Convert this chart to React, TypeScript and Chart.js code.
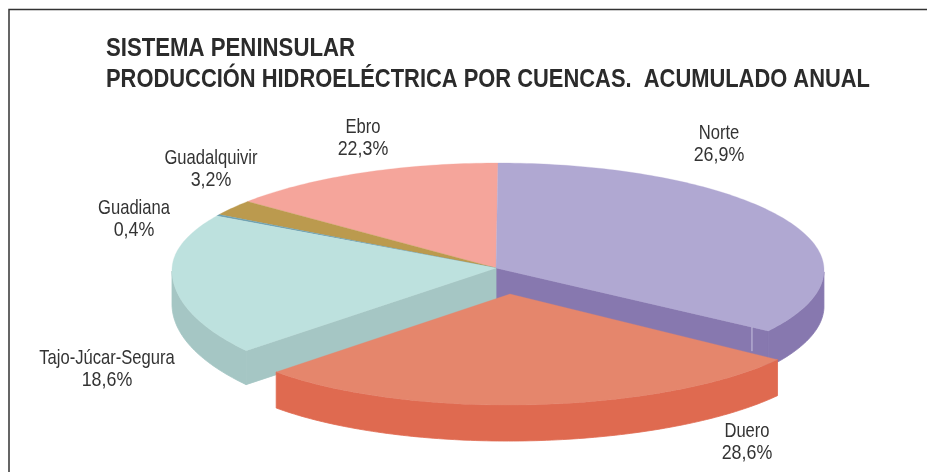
import React, { useEffect, useRef } from "react";
import { Chart, registerables } from "chart.js";

Chart.register(...registerables);

const titleLines = ["SISTEMA PENINSULAR", "PRODUCCIÓN HIDROELÉCTRICA POR CUENCAS.  ACUMULADO ANUAL"];
const categories = ["Norte", "Duero", "Tajo-Júcar-Segura", "Guadiana", "Guadalquivir", "Ebro"];
const shares = [26.9, 28.6, 18.6, 0.4, 3.2, 22.3];
const shareLabels = ["26,9%", "28,6%", "18,6%", "0,4%", "3,2%", "22,3%"];

// The source's 3D artwork does not draw its wedges in proportion to the printed
// shares, so each wedge's sweep from the library is stretched the way the artwork does.
const sweepStretch = [1.2805, 1.0354, 1.0424, 0.55, 0.75, 0.6253];
const topColors = ["#B0A8D2", "#E5866C", "#BDE1DE", "#6DA0B0", "#BB9A4E", "#F5A59B"];
const sideColors = ["#8778AF", "#DF6A50", "#A5C6C4", "#6DA0B0", "#A08440", "#DC8C84"];
const paintOrder = [5, 4, 3, 0, 2, 1];
const labelAnchors = [[719, 133], [747, 431], [107, 358], [134, 208], [211, 158], [363, 127]];

type Shape = { dx: number; dy: number; rx: number; ryBack: number; ryFront: number; tipDx: number; tipDy: number; tilt: number; depth: number };
const base = { dx: 2, dy: 2, rx: 326, ryBack: 107, ryFront: 109, tipDx: 0, tipDy: 0, tilt: 0, depth: 36 };
const shapes: Shape[] = [
  base,
  { dx: 22, dy: 40, rx: 313, ryBack: 96, ryFront: 97, tipDx: 14, tipDy: 26, tilt: -0.01, depth: 36 },
  { ...base, ryFront: 127, depth: 34 },
  base,
  base,
  base,
];
const TEXT = "#333333";
const FACE = "'Liberation Sans', Arial, sans-serif";
const NAME_CONDENSE = 0.79;
const SHARE_CONDENSE = 0.85;
const titleWidths = [249, 764];

const piePlugin = {
  id: "tiltedPie",
  beforeDraw(chart: any) {
    const { ctx, width, height } = chart;
    ctx.save();
    ctx.fillStyle = "#fff";
    ctx.fillRect(0, 0, width, height);
    ctx.strokeStyle = "#333";
    ctx.lineWidth = 1.5;
    ctx.beginPath();
    ctx.moveTo(9, height);
    ctx.lineTo(9, 9.5);
    ctx.lineTo(width, 9.5);
    ctx.stroke();
    ctx.restore();
  },
  beforeDatasetDraw(chart: any, args: any) {
    const { ctx } = chart;
    const arcs = chart.getDatasetMeta(args.index).data;
    const total = arcs.reduce((s: number, a: any, i: number) => s + a.circumference * sweepStretch[i], 0);
    let cursor = -Math.PI / 2;
    const spans = arcs.map((a: any, i: number) => {
      const sweep = (a.circumference * sweepStretch[i] * 2 * Math.PI) / total;
      const span = [cursor, cursor + sweep];
      cursor += sweep;
      return span;
    });
    const poly = (pts: number[][], fill: string, seal: number) => {
      ctx.beginPath();
      pts.forEach((p, k) => (k ? ctx.lineTo(p[0], p[1]) : ctx.moveTo(p[0], p[1])));
      ctx.closePath();
      ctx.fillStyle = fill;
      ctx.strokeStyle = fill;
      ctx.lineWidth = seal;
      ctx.fill();
      ctx.stroke();
    };
    ctx.save();
    for (const i of paintOrder) {
      const el = arcs[i];
      const s = shapes[i];
      const [a0, a1] = spans[i];
      const cx = el.x + s.dx;
      const cy = el.y + s.dy;
      const tip = [el.x + s.tipDx, el.y + s.tipDy];
      const rim = (a: number) => {
        const sin = Math.sin(a);
        const x = s.rx * Math.cos(a);
        return [cx + x, cy + (sin > 0 ? s.ryFront : s.ryBack) * sin + x * s.tilt];
      };
      const n = Math.max(3, Math.ceil(((a1 - a0) * 180) / Math.PI));
      const angles: number[] = [];
      for (let k = 0; k <= n; k++) angles.push(a0 + ((a1 - a0) * k) / n);
      const edge = angles.map(rim);
      const down = (p: number[]) => [p[0], p[1] + s.depth];
      // outer wall: only the half of the rim that faces the viewer
      const front = angles.filter((a) => Math.sin(a) >= 0).map(rim);
      if (front.length > 1) poly([...front, ...front.slice().reverse().map(down)], sideColors[i], 0.8);
      // cut faces turned towards the viewer
      const first = edge[0];
      const last = edge[edge.length - 1];
      if (Math.cos(a0) < -1e-3 && Math.sin(a0) >= 0) poly([tip, first, down(first), down(tip)], sideColors[i], 0.8);
      if (Math.cos(a1) > 1e-3 && Math.sin(a1) >= 0) poly([tip, last, down(last), down(tip)], sideColors[i], 0.8);
      // top face
      poly([tip, ...edge], topColors[i], 0.3);
      // pale seam on the Norte cut face
      if (i === 0) {
        const t = 0.94;
        const sx = tip[0] + (last[0] - tip[0]) * t;
        const sy = tip[1] + (last[1] - tip[1]) * t;
        ctx.beginPath();
        ctx.moveTo(sx, sy);
        ctx.lineTo(sx, sy + 24);
        ctx.strokeStyle = "#C9C3E0";
        ctx.lineWidth = 1;
        ctx.stroke();
      }
    }
    ctx.restore();
    return false;
  },
  afterDatasetsDraw(chart: any) {
    const { ctx } = chart;
    ctx.save();
    ctx.fillStyle = TEXT;
    ctx.textBaseline = "middle";
    ctx.textAlign = "center";
    ctx.font = `21px ${FACE}`;
    const put = (text: string, x: number, y: number, k: number) =>
      ctx.fillText(text, x, y, ctx.measureText(text).width * k);
    categories.forEach((c, i) => {
      const [x, y] = labelAnchors[i];
      put(c, x, y, NAME_CONDENSE);
      put(shareLabels[i], x, y + 22, SHARE_CONDENSE);
    });
    ctx.textAlign = "left";
    ctx.fillStyle = "#2b2b2b";
    ctx.font = `bold 25px ${FACE}`;
    titleLines.forEach((line, k) => ctx.fillText(line, 106, 49 + k * 31, titleWidths[k]));
    ctx.restore();
  },
};

export default function App() {
  const ref = useRef<HTMLCanvasElement>(null);
  useEffect(() => {
    document.body.style.margin = "0";
    const chart = new Chart(ref.current!, {
      type: "pie",
      data: {
        labels: categories,
        datasets: [{ data: shares, backgroundColor: topColors, borderWidth: 0, radius: 100 }],
      },
      options: {
        responsive: false,
        animation: false,
        layout: { padding: { left: 65, right: 0, top: 64, bottom: 0 } },
        plugins: {
          legend: { display: false },
          tooltip: { enabled: false },
        },
      },
      plugins: [piePlugin],
    } as any);
    return () => chart.destroy();
  }, []);
  return <canvas ref={ref} width={927} height={472} style={{ display: "block" }} />;
}
